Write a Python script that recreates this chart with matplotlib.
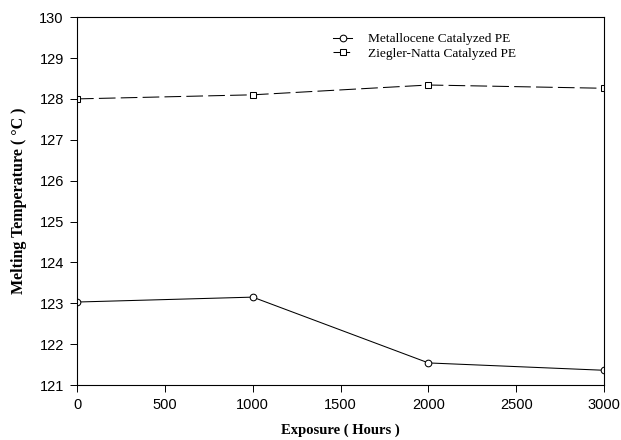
import matplotlib
matplotlib.use("Agg")
import matplotlib.pyplot as plt

# Exposure time (hours) and melting temperatures (deg C)
exposure_hours = [0, 1000, 2000, 3000]
metallocene_tm = [123.03, 123.15, 121.54, 121.36]
ziegler_natta_tm = [128.0, 128.1, 128.34, 128.26]

x_ticks = [0, 500, 1000, 1500, 2000, 2500, 3000]
y_ticks = [121, 122, 123, 124, 125, 126, 127, 128, 129, 130]

SERIF = "Liberation Serif"
SANS = "Liberation Sans"

fig = plt.figure(figsize=(6.21, 4.4), dpi=100)
ax = fig.add_axes([0.124, 0.125, 0.849, 0.836])

ax.plot(exposure_hours, metallocene_tm, color="black", linewidth=0.75,
        linestyle="-", marker="o", markersize=4.8, markerfacecolor="white",
        markeredgewidth=0.75, label="Metallocene Catalyzed PE")
ax.plot(exposure_hours, ziegler_natta_tm, color="black", linewidth=0.75,
        linestyle=(0, (16, 5)), marker="s", markersize=4.3, markerfacecolor="white",
        markeredgewidth=0.75, label="Ziegler-Natta Catalyzed PE")

ax.set_xlim(0, 3000)
ax.set_ylim(121, 130)
ax.set_xticks(x_ticks)
ax.set_yticks(y_ticks)
ax.tick_params(direction="out", length=5, width=0.7, labelsize=10.5, pad=4.5)
for lbl in ax.get_xticklabels() + ax.get_yticklabels():
    lbl.set_fontfamily(SANS)
for spine in ax.spines.values():
    spine.set_linewidth(0.8)

ax.set_xlabel("Exposure ( Hours )", fontfamily=SERIF, fontweight="bold",
              fontsize=10.5, labelpad=8)
ax.set_ylabel("Melting Temperature ( \u00b0C )", fontfamily=SERIF,
              fontweight="bold", fontsize=11.5, labelpad=9)

ax.legend(loc="upper left", bbox_to_anchor=(0.536, 0.925),
          bbox_transform=fig.transFigure, frameon=False,
          prop={"family": SERIF, "size": 9.6}, handlelength=1.45,
          handletextpad=1.2, labelspacing=0.15, borderpad=0, borderaxespad=0)

fig.savefig("out.png", dpi=100, facecolor="white")
